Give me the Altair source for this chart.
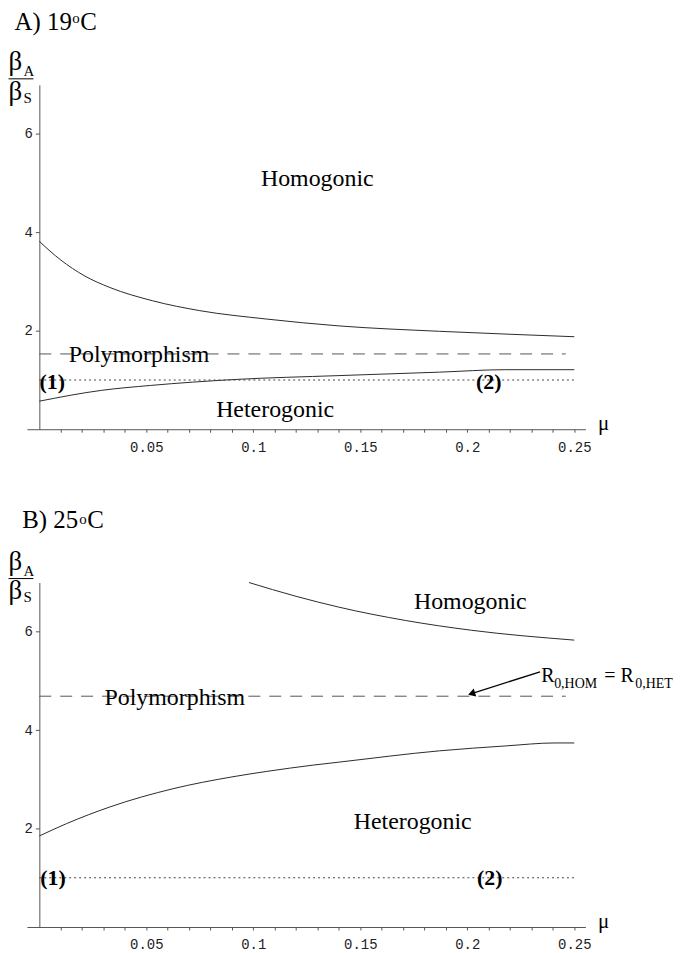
import altair as alt
import pandas as pd

# ---------------- data ----------------
# Panel A (19 C): boundary curves
a_up_x = [0.0, 0.005, 0.01, 0.021, 0.033, 0.053, 0.075, 0.106, 0.14, 0.187, 0.22, 0.25]
a_up_y = [3.82, 3.62, 3.44, 3.12, 2.88, 2.61, 2.41, 2.24, 2.10, 1.99, 1.93, 1.88]
a_lo_x = [0.0, 0.029, 0.052, 0.091, 0.14, 0.187, 0.218, 0.25]
a_lo_y = [0.57, 0.79, 0.89, 1.01, 1.09, 1.16, 1.21, 1.21]
a_dash_x = [0.0, 0.246]
a_dash_y = [1.53, 1.53]
a_dot_x = [0.0, 0.25]
a_dot_y = [1.0, 1.0]

# Panel B (25 C): boundary curves
b_up_x = [0.098, 0.12, 0.14, 0.171, 0.202, 0.25]
b_up_y = [7.0, 6.72, 6.50, 6.23, 6.03, 5.83]
b_lo_x = [0.0, 0.0127, 0.033, 0.0625, 0.09, 0.106, 0.128, 0.14, 0.187, 0.218, 0.241, 0.25]
b_lo_y = [1.85, 2.10, 2.44, 2.81, 3.05, 3.16, 3.29, 3.35, 3.58, 3.68, 3.74, 3.74]
b_dash_x = [0.0, 0.246]
b_dash_y = [4.69, 4.69]
b_dot_x = [0.0, 0.25]
b_dot_y = [1.0, 1.0]

# axis ticks
x_ticks = [0.01, 0.02, 0.03, 0.04, 0.05, 0.06, 0.07, 0.08, 0.09, 0.10,
           0.11, 0.12, 0.13, 0.14, 0.15, 0.16, 0.17, 0.18, 0.19, 0.20,
           0.21, 0.22, 0.23, 0.24, 0.25]
y_ticks = [2, 4, 6]

# region labels (data coordinates)
a_lab_text = ["Homogonic", "Polymorphism", "Heterogonic"]
a_lab_x = [0.1299, 0.0466, 0.1102]
a_lab_y = [4.936, 1.3615, 0.249]
b_lab_text = ["Homogonic", "Polymorphism", "Heterogonic"]
b_lab_x = [0.2014, 0.0633, 0.1745]
b_lab_y = [6.468, 4.511, 1.997]

# point labels (1), (2)
a_pt_text = ["(1)", "(2)"]
a_pt_x = [0.0060, 0.2100]
a_pt_y = [0.823, 0.823]
b_pt_text = ["(1)", "(2)"]
b_pt_x = [0.0064, 0.2105]
b_pt_y = [0.86, 0.86]

# left-aligned pieces: panel title, axis fraction label, mu
a_txt_text = ["A) 19", "o", "C", "\u03b2", "A", "\u03b2", "S", "\u03bc"]
a_txt_x = [-0.01159, 0.01540, 0.01913, -0.01438, -0.00740, -0.01438, -0.00740, 0.2611]
a_txt_y = [8.112, 8.26, 8.112, 7.303, 7.182, 6.696, 6.635, -0.02]
a_txt_fs = [25, 15, 25, 27, 15, 27, 15, 21]

b_txt_text = ["B) 25", "o", "C", "\u03b2", "A", "\u03b2", "S", "\u03bc",
              "R", "0,HOM", "= R", "0,HET"]
b_txt_x = [-0.00800, 0.01866, 0.02238, -0.01438, -0.00740, -0.01438, -0.00740, 0.2611,
           0.2346, 0.2406, 0.2640, 0.2785]
b_txt_y = [8.106, 8.193, 8.106, 7.263, 7.141, 6.656, 6.595, -0.02,
           4.983, 4.855, 4.983, 4.855]
b_txt_fs = [25, 15, 25, 27, 15, 27, 15, 21,
            20, 14, 20, 14]

# fraction bar of the y label
a_bar = {"x": [-0.01438], "x2": [-0.00275], "y": [7.121]}
b_bar = {"x": [-0.01438], "x2": [-0.00275], "y": [7.081]}

# arrow pointing at the R0,HOM = R0,HET line
arrow_tail = (0.2340, 5.185)
arrow_head = (0.2020, 4.744)

# ---------------- styling ----------------
SERIF = "Liberation Serif, Times New Roman, Times, serif"
MONO = "Liberation Mono, Courier New, monospace"
W, H = 561, 346
X_DOMAIN = [-0.0058, 0.2552]
Y_DOMAIN = [0, 7]

x_axis = alt.Axis(values=x_ticks, format=".2~f",
                  labelExpr="round(datum.value*100) % 5 == 0 ? datum.label : ''",
                  tickSize=3, labelPadding=8, labelFont=MONO, labelFontSize=14,
                  labelColor="#222", domainColor="#555", tickColor="#555",
                  grid=False, title=None, labelOverlap=False, labelFlush=False)
y_axis = alt.Axis(values=y_ticks, offset=-12.5, tickSize=4, labelPadding=3,
                  labelFont=MONO, labelFontSize=14, labelColor="#222",
                  domainColor="#555", tickColor="#555", grid=False, title=None)


def X(field="x"):
    return alt.X(f"{field}:Q", scale=alt.Scale(domain=X_DOMAIN, nice=False, zero=False), axis=x_axis)


def Y(field="y"):
    return alt.Y(f"{field}:Q", scale=alt.Scale(domain=Y_DOMAIN, nice=False, zero=False), axis=y_axis)


def curves(xs_list, ys_list):
    rows = []
    for i, (xs, ys) in enumerate(zip(xs_list, ys_list)):
        for xv, yv in zip(xs, ys):
            rows.append({"x": xv, "y": yv, "s": i})
    return pd.DataFrame(rows)


def panel(up, lo, dash, dot, lab, pt, txt, bar, extra=None):
    solid = alt.Chart(curves([up[0], lo[0]], [up[1], lo[1]])).mark_line(
        color="#2a2a2a", strokeWidth=1, interpolate="monotone"
    ).encode(x=X(), y=Y(), detail="s:N")
    dashed = alt.Chart(pd.DataFrame({"x": dash[0], "y": dash[1]})).mark_line(
        color="#555", strokeWidth=1, strokeDash=[12, 9]
    ).encode(x=X(), y=Y())
    dotted = alt.Chart(pd.DataFrame({"x": dot[0], "y": dot[1]})).mark_line(
        color="#444", strokeWidth=1, strokeDash=[2, 3]
    ).encode(x=X(), y=Y())
    labels = alt.Chart(pd.DataFrame({"t": lab[0], "x": lab[1], "y": lab[2]})).mark_text(
        font=SERIF, fontSize=24, align="center", baseline="alphabetic", color="black"
    ).encode(x=X(), y=Y(), text="t:N")
    pts = alt.Chart(pd.DataFrame({"t": pt[0], "x": pt[1], "y": pt[2]})).mark_text(
        font=SERIF, fontSize=22, fontWeight="bold", align="center", baseline="alphabetic", color="black"
    ).encode(x=X(), y=Y(), text="t:N")
    pieces = alt.Chart(pd.DataFrame({"t": txt[0], "x": txt[1], "y": txt[2], "fs": txt[3]})).mark_text(
        font=SERIF, align="left", baseline="alphabetic", color="black"
    ).encode(x=X(), y=Y(), text="t:N", size=alt.Size("fs:Q", scale=None, legend=None))
    fbar = alt.Chart(pd.DataFrame(bar)).mark_rule(color="black", strokeWidth=1).encode(
        x=X(), x2="x2:Q", y=Y())
    layers = [solid, dashed, dotted, labels, pts, pieces, fbar]
    if extra is not None:
        layers += extra
    return alt.layer(*layers).properties(width=W, height=H)


arrow_df = pd.DataFrame({"x": [arrow_tail[0]], "y": [arrow_tail[1]],
                         "x2": [arrow_head[0]], "y2": [arrow_head[1]]})
arrow_line = alt.Chart(arrow_df).mark_rule(color="black", strokeWidth=1.3).encode(
    x=X(), y=Y(), x2="x2:Q", y2="y2:Q")
arrow_tip = alt.Chart(pd.DataFrame({"x": [arrow_head[0]], "y": [arrow_head[1]]})).mark_point(
    shape="triangle-left", filled=True, size=70, angle=342.4, color="black", opacity=1
).encode(x=X(), y=Y())

panel_a = panel((a_up_x, a_up_y), (a_lo_x, a_lo_y), (a_dash_x, a_dash_y), (a_dot_x, a_dot_y),
                (a_lab_text, a_lab_x, a_lab_y), (a_pt_text, a_pt_x, a_pt_y),
                (a_txt_text, a_txt_x, a_txt_y, a_txt_fs), a_bar)
panel_b = panel((b_up_x, b_up_y), (b_lo_x, b_lo_y), (b_dash_x, b_dash_y), (b_dot_x, b_dot_y),
                (b_lab_text, b_lab_x, b_lab_y), (b_pt_text, b_pt_x, b_pt_y),
                (b_txt_text, b_txt_x, b_txt_y, b_txt_fs), b_bar,
                extra=[arrow_line, arrow_tip])

chart = alt.vconcat(panel_a, panel_b, spacing=54).properties(
    padding=0, background="white"
).configure_view(strokeWidth=0)

chart.save("out.html", embed_options={"renderer": "svg", "actions": False})
